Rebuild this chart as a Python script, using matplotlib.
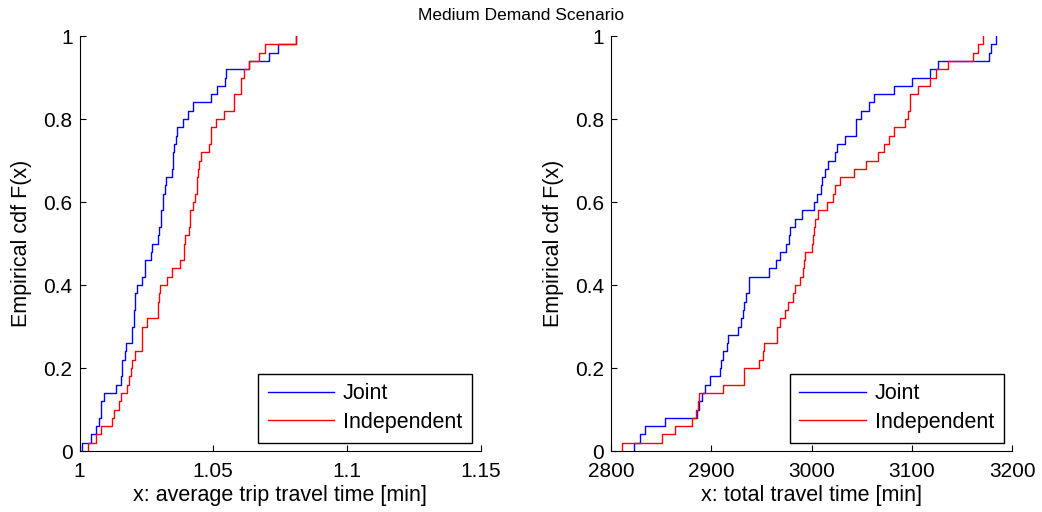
import numpy as np
import matplotlib.pyplot as plt

plt.rcParams['font.family'] = ['Liberation Sans', 'DejaVu Sans']

# sample values (50 runs per method)
avg_joint = [1.0011, 1.0043, 1.0061, 1.0074, 1.0079, 1.0081, 1.0091, 1.0135,
             1.0154, 1.0158, 1.0160, 1.0170, 1.0172, 1.0196, 1.0198, 1.0202,
             1.0203, 1.0206, 1.0207, 1.0214, 1.0233, 1.0244, 1.0246, 1.0269,
             1.0271, 1.0294, 1.0296, 1.0304, 1.0306, 1.0312, 1.0313, 1.0320,
             1.0322, 1.0346, 1.0350, 1.0351, 1.0352, 1.0359, 1.0363, 1.0388,
             1.0406, 1.0425, 1.0493, 1.0515, 1.0543, 1.0548, 1.0634, 1.0709,
             1.0744, 1.0811]
avg_indep = [1.0030, 1.0061, 1.0080, 1.0123, 1.0130, 1.0149, 1.0154, 1.0179,
             1.0185, 1.0191, 1.0198, 1.0208, 1.0233, 1.0234, 1.0235, 1.0254,
             1.0294, 1.0295, 1.0296, 1.0300, 1.0326, 1.0344, 1.0376, 1.0389,
             1.0390, 1.0395, 1.0408, 1.0413, 1.0414, 1.0426, 1.0431, 1.0438,
             1.0439, 1.0444, 1.0445, 1.0456, 1.0486, 1.0491, 1.0492, 1.0511,
             1.0541, 1.0578, 1.0579, 1.0603, 1.0604, 1.0614, 1.0634, 1.0670,
             1.0695, 1.0811]

tot_joint = [2822.7, 2829.0, 2834.0, 2853.7, 2885.7, 2887.7, 2891.0, 2893.3,
             2898.3, 2908.3, 2909.7, 2911.3, 2916.0, 2916.6, 2926.3, 2929.7,
             2931.7, 2933.0, 2934.3, 2937.0, 2937.6, 2957.3, 2964.0, 2968.7,
             2974.0, 2977.3, 2978.7, 2983.7, 2990.3, 3002.0, 3005.0, 3009.7,
             3010.3, 3013.0, 3016.3, 3023.0, 3024.7, 3032.7, 3043.7, 3044.3,
             3049.0, 3057.3, 3062.3, 3081.7, 3099.7, 3118.0, 3126.0, 3177.0,
             3178.7, 3183.3]
tot_indep = [2811.0, 2850.7, 2863.7, 2880.3, 2885.0, 2886.3, 2888.0, 2911.7,
             2932.4, 2933.0, 2947.0, 2951.7, 2952.3, 2965.0, 2965.6, 2968.7,
             2973.3, 2976.7, 2981.7, 2983.3, 2988.3, 2991.4, 2992.0, 2993.0,
             3000.0, 3001.4, 3002.0, 3003.3, 3006.7, 3015.0, 3021.3, 3023.0,
             3028.0, 3042.3, 3054.0, 3065.7, 3072.0, 3076.7, 3081.7, 3093.0,
             3096.3, 3097.7, 3098.3, 3106.0, 3118.0, 3124.3, 3136.0, 3160.7,
             3165.7, 3170.3]

labels = ['Joint', 'Independent']
colors = ['#0000ff', '#ff0000']


def ecdf_plot(ax, data, color, label):
    xs = np.sort(np.array(data))
    n = len(xs)
    x = np.concatenate([[xs[0]], xs])
    y = np.concatenate([[0], np.arange(1, n + 1) / n])
    ax.step(x, y, where='post', color=color, lw=1.0, label=label)


fig = plt.figure(figsize=(10.42, 5.12), dpi=100)
ax1 = fig.add_axes([0.0763, 0.1191, 0.3850, 0.8105])
ax2 = fig.add_axes([0.5864, 0.1191, 0.3852, 0.8105])

panels = [
    (ax1, avg_joint, avg_indep, (1, 1.15), [1, 1.05, 1.1, 1.15],
     ['1', '1.05', '1.1', '1.15'], 'x: average trip travel time [min]'),
    (ax2, tot_joint, tot_indep, (2800, 3200), [2800, 2900, 3000, 3100, 3200],
     ['2800', '2900', '3000', '3100', '3200'], 'x: total travel time [min]'),
]

for ax, dj, di, xlim, xt, xtl, xlab in panels:
    ecdf_plot(ax, dj, colors[0], labels[0])
    ecdf_plot(ax, di, colors[1], labels[1])
    ax.set_xlim(*xlim)
    ax.set_ylim(0, 1)
    ax.set_xticks(xt)
    ax.set_xticklabels(xtl)
    ax.set_yticks([0, 0.2, 0.4, 0.6, 0.8, 1])
    ax.set_yticklabels(['0', '0.2', '0.4', '0.6', '0.8', '1'])
    ax.tick_params(direction='in', length=4, width=0.8, labelsize=15)
    ax.tick_params(axis='x', pad=8)
    ax.tick_params(axis='y', pad=5)
    ax.spines['top'].set_visible(False)
    ax.spines['right'].set_visible(False)
    ax.set_xlabel(xlab, fontsize=15.5, labelpad=3)
    ax.set_ylabel('Empirical cdf F(x)', fontsize=15.5, labelpad=8)
    leg = ax.legend(loc='lower right', bbox_to_anchor=(0.978, 0.02),
                    fontsize=15.5, handlelength=3.1, handletextpad=0.4,
                    borderaxespad=0, fancybox=False, framealpha=1,
                    edgecolor='black', labelspacing=0.35, borderpad=0.45)
    leg.get_frame().set_linewidth(1.0)

fig.text(0.5, 0.97, 'Medium Demand Scenario', ha='center', va='center',
         fontsize=12.5)

fig.savefig('out.png', dpi=100)
